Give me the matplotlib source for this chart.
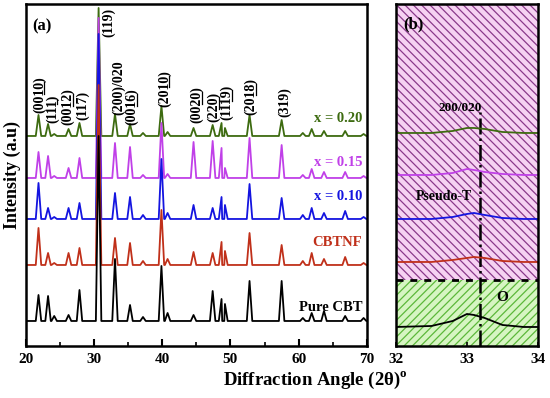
import matplotlib
matplotlib.use("Agg")
import matplotlib.pyplot as plt
from matplotlib.ticker import MultipleLocator

plt.rcParams['font.family'] = ['Liberation Serif', 'DejaVu Serif']
plt.rcParams['font.weight'] = 'bold'
plt.rcParams['mathtext.fontset'] = 'custom'
plt.rcParams['mathtext.rm'] = 'Liberation Serif:bold'
plt.rcParams['mathtext.bf'] = 'Liberation Serif:bold'
plt.rcParams['hatch.linewidth'] = 0.9

# ---- panel (a): peak table (2theta, heights above each baseline) ----
peak_pos = [21.9, 23.3, 24.2, 26.3, 27.9, 30.7, 33.1, 35.3, 37.2, 39.9, 40.8,
            44.6, 47.4, 48.7, 49.2, 52.8, 57.5, 60.6, 61.9, 63.7, 66.8, 69.5]

series_names = ["x = 0.20", "x = 0.15", "x = 0.10", "CBTNF", "Pure CBT"]
series_colors = ["#3d6b10", "#c040e8", "#1414e0", "#c0301a", "#000000"]
series_base = [210, 168, 127, 81, 25]

h_x020 = [21, 12, 2, 7, 13, 128, 22, 12, 3, 30, 4, 8, 11, 13, 8, 21, 16, 3, 7, 5, 5, 2]
h_x015 = [26, 22, 2, 10, 20, 160, 35, 31, 3, 55, 4, 36, 37, 30, 10, 40, 33, 3, 9, 6, 6, 2]
h_x010 = [36, 11, 2, 11, 16, 185, 26, 22, 4, 60, 6, 14, 11, 22, 14, 35, 21, 4, 11, 6, 8, 2]
h_cbtnf = [37, 12, 2, 12, 17, 180, 27, 22, 4, 55, 6, 13, 12, 23, 14, 32, 20, 4, 12, 6, 8, 2]
h_pure = [26, 25, 5, 6, 31, 185, 62, 16, 4, 55, 8, 6, 30, 22, 17, 40, 40, 3, 8, 10, 5, 3]
series_heights = [h_x020, h_x015, h_x010, h_cbtnf, h_pure]

# peak labels: (plain part, underlined part, closing part)
label_text = [("(00", "10", ")"), ("(11", "1", ")"), ("(00", "12", ")"), ("(117)", "", ""),
              ("(119)", "", ""), ("(200)/020", "", ""), ("(00", "16", ")"), ("(20", "10", ")"),
              ("(00", "20", ")"), ("(2", "20", ")"), ("(11", "19", ")"),
              ("(20", "18", ")"), ("(319)", "", "")]
label_x = [22.0, 23.9, 26.2, 28.3, 32.1, 33.6, 35.5, 40.3, 45.1, 47.6, 49.5, 53.0, 58.0]
label_y = [233, 223, 221, 226, 309, 231, 221, 239, 223, 224, 226, 231, 229]

name_y = [227, 183, 149, 103, 38]

# ---- panel (b): zoom on the 200/020 reflection ----
b_x = [32.0, 32.5, 32.8, 33.0, 33.1, 33.25, 33.5, 33.8, 34.0]
b_x020 = [213, 213, 215, 218, 218, 217, 214, 213, 213]
b_x015 = [171, 171, 173, 177, 176, 174, 172, 171, 171]
b_x010 = [127, 127, 129, 132, 133, 131, 128, 127, 127]
b_cbtnf = [84, 84, 86, 88, 89, 88, 85, 84, 84]
b_pure = [19, 20, 25, 32, 31, 28, 21, 19, 19]
b_series = [b_x020, b_x015, b_x010, b_cbtnf, b_pure]

phase_split = 66
ref_line = 33.18


def pattern(base, heights, hw=0.4):
    xs, ys = [20.0], [base]
    for p, h in zip(peak_pos, heights):
        xs += [p - hw, p, p + hw]
        ys += [base, base + h, base]
    xs.append(70.0)
    ys.append(base)
    pts = sorted(zip(xs, ys))
    return [q[0] for q in pts], [q[1] for q in pts]


fig = plt.figure(figsize=(5.5, 3.98), dpi=100)
ax = fig.add_axes([0.0464, 0.1307, 0.6209, 0.8593])
axb = fig.add_axes([0.72, 0.1307, 0.258, 0.8593])

for name, col, base, hts, ny in zip(series_names, series_colors, series_base,
                                    series_heights, name_y):
    xs, ys = pattern(base, hts)
    ax.plot(xs, ys, color=col, lw=1.3)
    ax.text(69.3, ny, name, color=col, fontsize=10.5, fontweight='bold',
            ha='right', va='center')

ax.set_xlim(20, 70)
ax.set_ylim(0, 342)

# rotated hkl labels, underlined digits drawn as short lines on the baseline side
renderer = fig.canvas.get_renderer()
inv = ax.transData.inverted()
for (a, u, c), x, y in zip(label_text, label_x, label_y):
    kw = dict(rotation=90, fontsize=10, fontweight='bold', ha='center', va='bottom')
    full = ax.text(x, y, a + u + c, **kw)
    if u:
        bb = full.get_window_extent(renderer)
        t1 = ax.text(x, y, a, **kw)
        t2 = ax.text(x, y, a + u, **kw)
        y1 = bb.y0 + t1.get_window_extent(renderer).height
        y2 = bb.y0 + t2.get_window_extent(renderer).height
        t1.remove()
        t2.remove()
        xl = bb.x1 - 1.5
        (dx1, dy1), (dx2, dy2) = inv.transform([(xl, y1 + 1), (xl, y2 - 1)])
        ax.plot([dx1, dx2], [dy1, dy2], color='black', lw=0.9)

ax.text(21.0, 320, "(a)", fontsize=12, fontweight='bold', va='center')
ax.set_yticks([])
ax.xaxis.set_major_locator(MultipleLocator(10))
ax.xaxis.set_minor_locator(MultipleLocator(5))
ax.tick_params(axis='x', which='major', direction='in', length=5, width=1.5,
               labelsize=11, pad=5)
ax.tick_params(axis='x', which='minor', direction='in', length=3, width=1.2)

# panel (b)
axb.fill_between([32, 34], phase_split, 342, facecolor="#f6d2f2",
                 edgecolor="#8a3a8a", hatch='\\\\\\\\', lw=0)
axb.fill_between([32, 34], 0, phase_split, facecolor="#d6f5c2",
                 edgecolor="#5cb83a", hatch='////', lw=0)
axb.axhline(phase_split, color='black', lw=2, ls=(0, (2.5, 2.5)))
axb.vlines(ref_line, 0, 234, color='black', lw=1.8, ls='-.')
for col, ys in zip(series_colors, b_series):
    axb.plot(b_x, ys, color=col, lw=1.3)

axb.text(32.9, 238, "200/020", fontsize=9.5, fontweight='bold', ha='center',
         va='center')
axb.text(32.68, 149, "Pseudo-T", fontsize=10, fontweight='bold', ha='center',
         va='center')
axb.text(33.5, 48, "O", fontsize=11, fontweight='bold', ha='center',
         va='center')
axb.text(32.1, 322, "(b)", fontsize=12, fontweight='bold', va='center')
axb.set_xlim(32, 34)
axb.set_ylim(0, 342)
axb.set_yticks([])
axb.set_xticks([32, 33, 34])
axb.tick_params(axis='x', direction='in', length=3, width=1.2, labelsize=11,
                pad=5)

for a in (ax, axb):
    for s in a.spines.values():
        s.set_linewidth(1.8)

fig.text(0.022, 0.56, "Intensity (a.u)", rotation=90, fontsize=13,
         fontweight='bold', ha='center', va='center')
fig.text(0.573, 0.045, r"Diffraction Angle (2θ)$^{\mathrm{o}}$", fontsize=13.5,
         fontweight='bold', ha='center', va='center')

fig.savefig("out.png", dpi=100)
